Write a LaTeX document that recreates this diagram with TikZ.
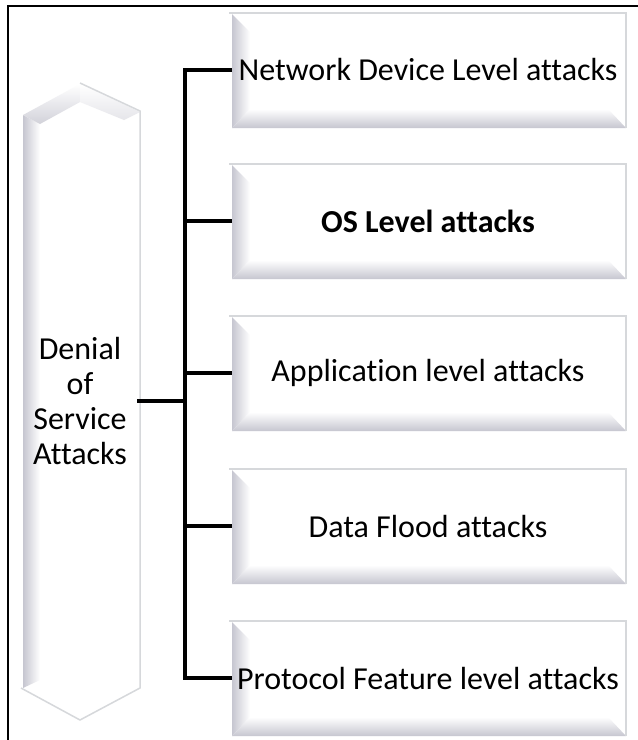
\documentclass[tikz,border=0pt]{standalone}
\usepackage{fontspec}
\setmainfont[Ligatures=NoCommon]{Carlito}
\usetikzlibrary{calc}
\definecolor{bev}{RGB}{198,198,208}
\definecolor{edge}{RGB}{214,216,219}
\tikzset{
  conn/.style={line width=4pt, line cap=rect},
  frameline/.style={line width=2pt},
  boxtext/.style={minimum width=396pt, minimum height=116pt, inner sep=0pt, font=\fontsize{32}{35}\selectfont},
}
\newcommand{\bevbox}[4]{%
  \pgfmathsetmacro\bT{#2}\pgfmathsetmacro\bB{#2+116}%
  \fill[white] (230,\bT) rectangle (626,\bB);
  \shade[left color=bev, right color=white] (232,\bT+2) -- (250,\bT+20) -- (250,\bB-19) -- (232,\bB) -- cycle;
  \shade[top color=white, bottom color=bev] (232,\bB) -- (250,\bB-19) -- (608,\bB-19) -- (626,\bB) -- cycle;
  \draw[edge, line width=1.5pt] (229,\bT+1) -- (626,\bT+1) -- (626,\bB);
  \node[boxtext, #4] (#1) at (428,\bT+58) {#3};
}
\begin{document}
\begin{tikzpicture}[x=1pt, y=-1pt]
\useasboundingbox (0,0) rectangle (638,740);
\fill[white] (0,0) rectangle (638,740);
% frame
\draw[frameline] (8,741) -- (8,6) -- (639,6);
% left arrow shape
\fill[white] (23,115) -- (80,84) -- (140,112) -- (140,688) -- (80,720) -- (23,688) -- cycle;
\shade[left color=bev, right color=white] (23,115) -- (40,124) -- (40,680) -- (23,688) -- cycle;
\shade[top color=white, bottom color=bev!80] (23,115) -- (80,84) -- (80,102) -- (40,124) -- cycle;
\shade[top color=white, bottom color=bev!45] (80,84) -- (140,112) -- (124,120) -- (80,102) -- cycle;
\draw[edge, line width=1.5pt] (80,83) -- (140,111) -- (140,688) -- (80,720) -- (21,688);
\node[minimum width=118pt, minimum height=560pt, inner sep=0pt, align=center,
      font=\fontsize{32}{35}\selectfont] (dos) at (80,401) {Denial\\of\\Service\\Attacks};
% boxes
\bevbox{b1}{12}{Network Device Level attacks}{}
\bevbox{b2}{163}{OS Level attacks}{font=\fontsize{32}{35}\selectfont\bfseries}
\bevbox{b3}{315}{Application level attacks}{}
\bevbox{b4}{468}{Data Flood attacks}{}
\bevbox{b5}{620}{Protocol Feature level attacks}{}
% connectors
\coordinate (spine) at (185,401);
\draw[conn] (dos.east) -- (spine);
\draw[conn] (spine) |- (b1.west);
\draw[conn] (spine) |- (b2.west);
\draw[conn] (spine) |- (b3.west);
\draw[conn] (spine) |- (b4.west);
\draw[conn] (spine) |- (b5.west);
\end{tikzpicture}
\end{document}
